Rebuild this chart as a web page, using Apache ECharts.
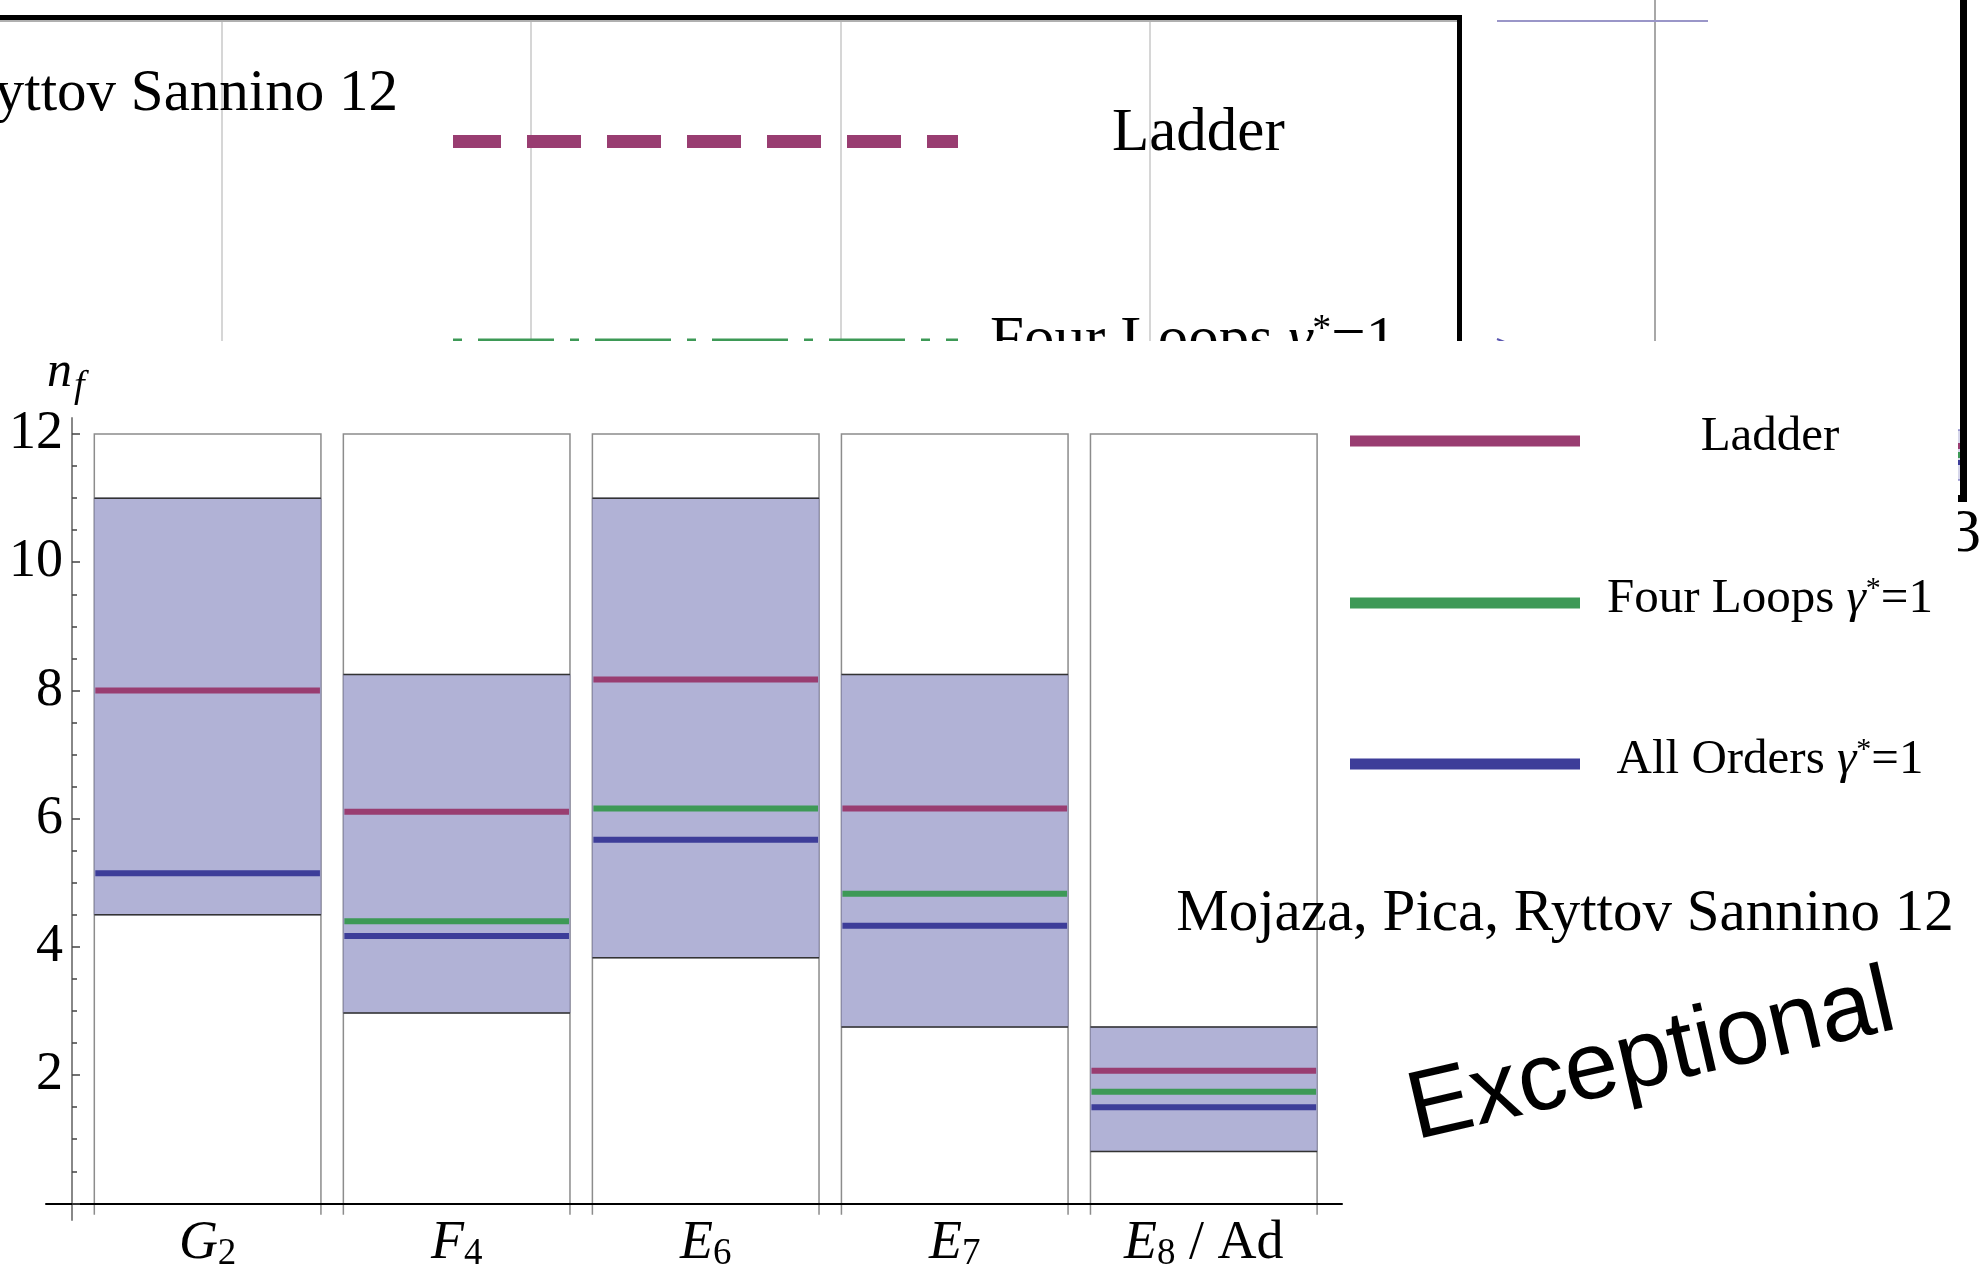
<!DOCTYPE html>
<html><head><meta charset="utf-8">
<script src="https://cdn.jsdelivr.net/npm/echarts@6/dist/echarts.min.js"></script>
<style>html,body{margin:0;padding:0;background:#fff}#c{width:1982px;height:1273px}</style>
</head><body><div id="c"></div>
<script>
// ---------- data ----------
const categories = ['G_2', 'F_4', 'E_6', 'E_7', 'E_8 / Ad'];
const bandLow  = [4.50, 2.97, 3.83, 2.75, 0.81];
const bandHigh = [11.00, 8.25, 11.00, 8.25, 2.75];
const ladder    = [8.00, 6.11, 8.17, 6.16, 2.07];
const fourLoops = [null, 4.40, 6.16, 4.83, 1.74];
const allOrders = [5.15, 4.17, 5.67, 4.33, 1.50];
const yTickLabels = [2, 4, 6, 8, 10, 12];
const yMajorTicks = [0, 2, 4, 6, 8, 10, 12];
const yMinorTicks = [0.5, 1, 1.5, 2.5, 3, 3.5, 4.5, 5, 5.5, 6.5, 7, 7.5, 8.5, 9, 9.5, 10.5, 11, 11.5];
const boxTop = 12;
const seriesNames = ['Ladder', 'Four Loops γ*=1', 'All Orders γ*=1'];
const colors = ['#993d71', '#3d9956', '#3d3d99'];

// ---------- layout constants ----------
const BOX_L = 0.09, BOX_R = 1.0, BOX_BASE = -0.18;
const CENTER = (BOX_L + BOX_R) / 2;
const X_MIN = -0.104, X_MAX = 5.1, GRID_L = 46, GRID_R = 640;
const SERIF = "'Liberation Serif', 'Times New Roman', serif";

const chart = echarts.init(document.getElementById('c'), null, {renderer: 'canvas'});

function catRich(name) {
  const m = name.match(/^(\w)_(\d)(.*)$/);
  return '{i|' + m[1] + '}{s|' + m[2] + '}' + (m[3] ? '{r|' + m[3] + '}' : '');
}

function lineSeries(idx, values) {
  return {
    type: 'custom', name: seriesNames[idx], z: 6, clip: false,
    data: values.map((v, i) => v == null ? null : [i, v]).filter(d => d),
    encode: {x: 0, y: 1},
    renderItem: (p, api) => {
      const i = api.value(0), v = api.value(1);
      const a = api.coord([i + BOX_L, v]), b = api.coord([i + BOX_R, v]);
      return {type: 'line', shape: {x1: a[0] + 1, y1: a[1], x2: b[0] - 1, y2: b[1]},
              style: {stroke: colors[idx], lineWidth: 6}};
    }
  };
}

const fragText = (text, x, y, size, align, z, extra) => ({
  type: 'text', z: z, x: x, y: y,
  style: Object.assign({text: text, fontFamily: SERIF, fontSize: size, lineHeight: size, fill: '#000',
          align: align, textAlign: align, verticalAlign: 'middle', textVerticalAlign: 'middle'}, extra || {})
});

const richGamma = (size) => ({
  t: {fontFamily: SERIF, fontSize: size, lineHeight: size, fill: '#000'},
  g: {fontFamily: SERIF, fontStyle: 'italic', fontSize: size, lineHeight: size, fill: '#000'},
  sup: {fontFamily: SERIF, fontSize: Math.round(size * 0.62), lineHeight: Math.round(size * 0.62), verticalAlign: 'top', fill: '#000'}
});
const gammaText = (name) => {
  const m = name.match(/^(.*)γ\*(.*)$/);
  return m ? '{t|' + m[1] + '}{g|γ}{sup|*}{t|' + m[2] + '}' : '{t|' + name + '}';
};

const graphics = [
  // ---- fragment of another figure above (background) ----
  {type: 'rect', z: 0, shape: {x: 0, y: 15, width: 1462, height: 5}, style: {fill: '#000'}},
  {type: 'rect', z: 0, shape: {x: 0, y: 20, width: 1458, height: 2}, style: {fill: '#b0b0b0'}},
  {type: 'rect', z: 0, shape: {x: 1457, y: 15, width: 5, height: 330}, style: {fill: '#000'}},
  {type: 'line', z: 0, shape: {x1: 222, y1: 22, x2: 222, y2: 345}, style: {stroke: '#c8c8c8', lineWidth: 1.5}},
  {type: 'line', z: 0, shape: {x1: 531, y1: 22, x2: 531, y2: 345}, style: {stroke: '#c8c8c8', lineWidth: 1.5}},
  {type: 'line', z: 0, shape: {x1: 841, y1: 22, x2: 841, y2: 345}, style: {stroke: '#c8c8c8', lineWidth: 1.5}},
  {type: 'line', z: 0, shape: {x1: 1150, y1: 22, x2: 1150, y2: 345}, style: {stroke: '#c8c8c8', lineWidth: 1.5}},
  {type: 'line', z: 0, shape: {x1: 1655, y1: 0, x2: 1655, y2: 345}, style: {stroke: '#a8a8a8', lineWidth: 2}},
  {type: 'line', z: 0, shape: {x1: 1497, y1: 21, x2: 1708, y2: 21}, style: {stroke: '#9a96c8', lineWidth: 2}},
  {type: 'line', z: 0, shape: {x1: 1497, y1: 339, x2: 1512, y2: 345}, style: {stroke: '#5a56b0', lineWidth: 2}},
  fragText('Mojaza, Pica, Ryttov Sannino 12', 398, 94, 59, 'right', 0),
  {type: 'line', z: 0, shape: {x1: 453, y1: 141.5, x2: 958, y2: 141.5},
   style: {stroke: colors[0], lineWidth: 13, lineDash: [54, 26], lineDashOffset: 6}},
  fragText('Ladder', 1112, 134, 61, 'left', 0),
  {type: 'line', z: 0, shape: {x1: 453, y1: 345, x2: 958, y2: 345},
   style: {stroke: colors[1], lineWidth: 13, lineDash: [9, 16, 76, 16]}},
  {type: 'text', z: 0, x: 990, y: 342,
   style: {text: gammaText('Four Loops γ*=1'), rich: richGamma(61), align: 'left', verticalAlign: 'middle'}},
  // right edge remnants
  {type: 'rect', z: 0, shape: {x: 1956, y: 430, width: 6, height: 50}, style: {fill: '#d6d6ea', stroke: '#5a56b0', lineWidth: 1}},
  {type: 'rect', z: 0, shape: {x: 1956, y: 443, width: 6, height: 6}, style: {fill: colors[0]}},
  {type: 'rect', z: 0, shape: {x: 1956, y: 452, width: 6, height: 6}, style: {fill: colors[1]}},
  {type: 'rect', z: 0, shape: {x: 1956, y: 460, width: 6, height: 5}, style: {fill: colors[2]}},
  {type: 'rect', z: 0, shape: {x: 1960, y: 0, width: 7, height: 502}, style: {fill: '#000'}},
  {type: 'rect', z: 0, shape: {x: 1957, y: 495, width: 10, height: 7}, style: {fill: '#000'}},
  fragText('3', 1950, 535, 62, 'left', 0),
  // ---- white panel of the main chart ----
  {type: 'rect', z: 1, shape: {x: 0, y: 341, width: 1958, height: 932}, style: {fill: '#fff'}},
  // ---- main chart annotations ----
  fragText('n', 47, 373, 50, 'left', 12, {fontStyle: 'italic'}),
  fragText('f', 74, 387, 38, 'left', 12, {fontStyle: 'italic'}),
  fragText('Mojaza, Pica, Ryttov Sannino 12', 1565, 914, 59, 'center', 12),
  {type: 'text', z: 12, x: 1416, y: 1141, rotation: 13 * Math.PI / 180,
   style: {text: 'Exceptional', fontFamily: "'Liberation Sans', Arial, sans-serif", fontSize: 96, lineHeight: 96,
           fill: '#000', align: 'left', textAlign: 'left', verticalAlign: 'bottom', textVerticalAlign: 'bottom', y: 20}}
];
// legend (drawn entries)
const legendY = [441, 603, 764];
seriesNames.forEach((n, k) => {
  graphics.push({type: 'rect', z: 12, shape: {x: 1350, y: legendY[k] - 5.5, width: 230, height: 11}, style: {fill: colors[k]}});
  graphics.push({type: 'text', z: 12, x: 1770, y: legendY[k] - 4,
    style: {text: gammaText(n), rich: richGamma(49), align: 'center', verticalAlign: 'middle'}});
});

const zeroOffset = -Math.round((0 - X_MIN) / (X_MAX - X_MIN) * (1982 - GRID_L - GRID_R));

const option = {
  backgroundColor: '#fff',
  animation: false,
  grid: {left: GRID_L, right: GRID_R, top: 418, bottom: 53, containLabel: false, outerBoundsMode: 'none'},
  xAxis: {
    type: 'value', min: X_MIN, max: X_MAX, z: 10,
    splitLine: {show: false},
    axisLine: {onZero: true, lineStyle: {color: '#000', width: 2}},
    axisTick: {show: false},
    axisLabel: {
      customValues: categories.map((c, i) => i + CENTER),
      margin: -3, verticalAlign: 'top',
      formatter: v => catRich(categories[Math.round(v - CENTER)]),
      rich: {
        i: {fontFamily: SERIF, fontStyle: 'italic', fontSize: 54, lineHeight: 54, verticalAlign: 'top', color: '#000'},
        s: {fontFamily: SERIF, fontSize: 37, lineHeight: 88, verticalAlign: 'top', color: '#000', padding: [19, 0, 0, 0]},
        r: {fontFamily: SERIF, fontSize: 54, lineHeight: 54, verticalAlign: 'top', color: '#000'}
      }
    }
  },
  yAxis: [{
    type: 'value', min: -0.26, max: 12.25, z: 10,
    splitLine: {show: false},
    axisLine: {onZero: false, lineStyle: {color: '#888', width: 2}},
    offset: zeroOffset,
    axisTick: {inside: true, length: 8, customValues: yMajorTicks, lineStyle: {color: '#444', width: 1.5}},
    axisLabel: {customValues: yTickLabels, margin: 9, fontFamily: SERIF, fontSize: 54, color: '#000'}
  }, {
    type: 'value', min: -0.26, max: 12.25, z: 10, position: 'left',
    splitLine: {show: false},
    axisLine: {show: false, onZero: false},
    offset: zeroOffset,
    axisTick: {inside: true, length: 5, customValues: yMinorTicks, lineStyle: {color: '#444', width: 1.5}},
    axisLabel: {show: false}
  }],
  graphic: {elements: graphics},
  series: [
    {
      type: 'custom', name: 'frame', z: 3, clip: false,
      data: categories.map((c, i) => [i, boxTop]),
      encode: {x: 0, y: 1},
      renderItem: (p, api) => {
        const i = api.value(0);
        const tl = api.coord([i + BOX_L, api.value(1)]), br = api.coord([i + BOX_R, BOX_BASE]);
        return {type: 'polyline', shape: {points: [[tl[0], br[1]], [tl[0], tl[1]], [br[0], tl[1]], [br[0], br[1]]]},
                style: {stroke: '#8c8c8c', fill: null, lineWidth: 1.5}};
      }
    },
    {
      type: 'custom', name: 'band', z: 4, clip: false,
      data: categories.map((c, i) => [i, bandLow[i], bandHigh[i]]),
      encode: {x: 0, y: [1, 2]},
      renderItem: (p, api) => {
        const i = api.value(0);
        const tl = api.coord([i + BOX_L, api.value(2)]), br = api.coord([i + BOX_R, api.value(1)]);
        return {type: 'group', children: [
          {type: 'rect', shape: {x: tl[0], y: tl[1], width: br[0] - tl[0], height: br[1] - tl[1]},
           style: {fill: '#b1b2d6', stroke: '#8a8aa8', lineWidth: 1}},
          {type: 'line', shape: {x1: tl[0], y1: tl[1], x2: br[0], y2: tl[1]}, style: {stroke: '#333', lineWidth: 1.5}},
          {type: 'line', shape: {x1: tl[0], y1: br[1], x2: br[0], y2: br[1]}, style: {stroke: '#333', lineWidth: 1.5}}
        ]};
      }
    },
    lineSeries(0, ladder),
    lineSeries(1, fourLoops),
    lineSeries(2, allOrders)
  ]
};
chart.setOption(option);
</script></body></html>
